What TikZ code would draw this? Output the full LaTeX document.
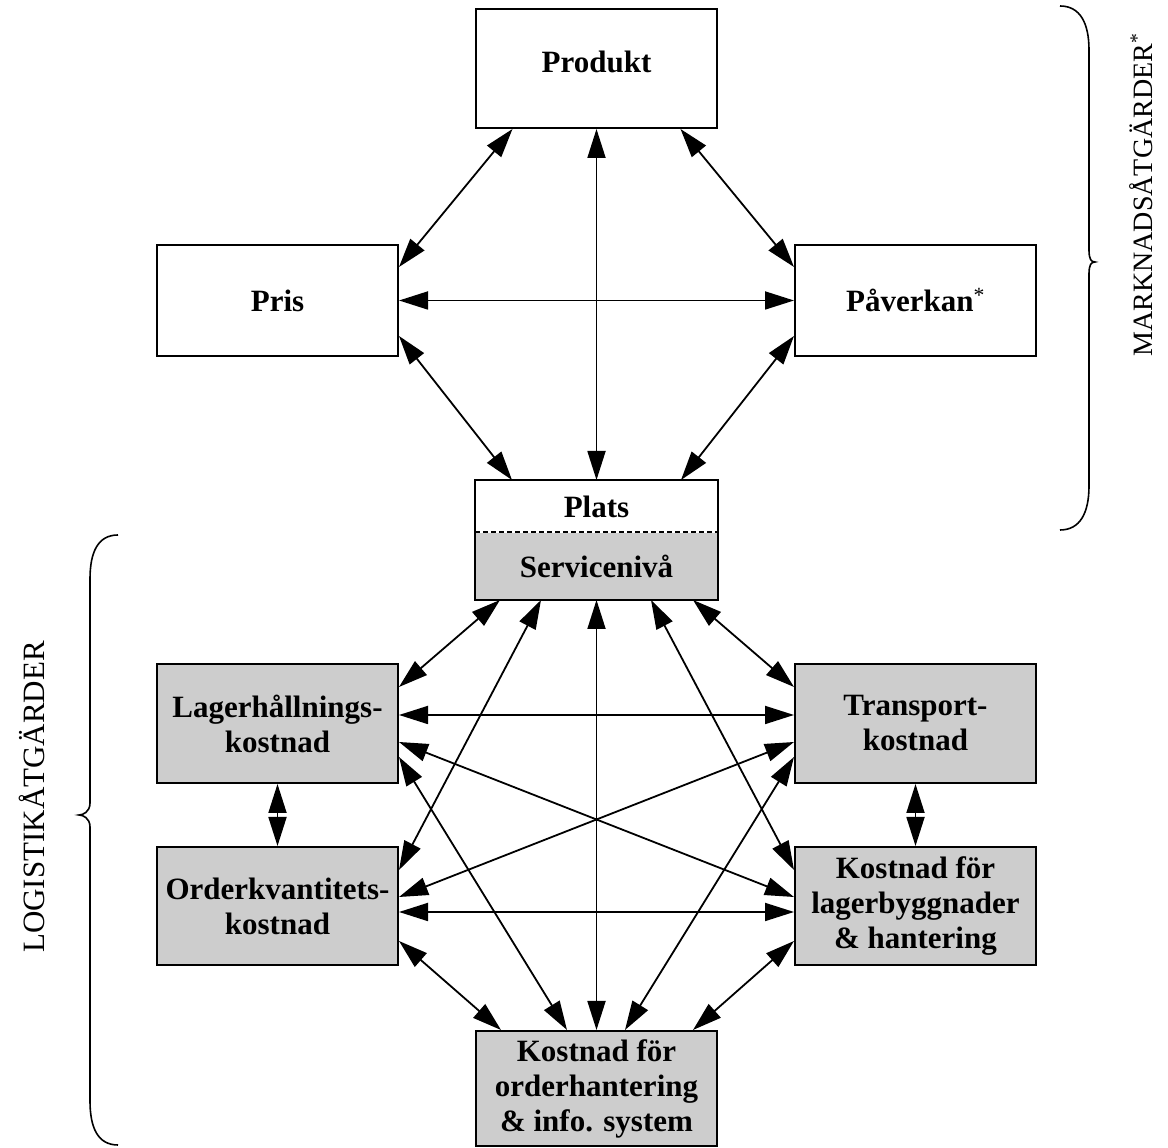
\documentclass[tikz,border=0pt]{standalone}
\usepackage{fontspec}
\setmainfont{Liberation Serif}
\usetikzlibrary{arrows.meta}
\definecolor{boxgray}{RGB}{205,205,205}
\begin{document}
\begin{tikzpicture}[x=1pt,y=1pt,
  box/.style={draw, line width=2pt, minimum width=241pt, inner sep=0pt, align=center,
    font=\bfseries\fontsize{31}{35}\selectfont},
  gbox/.style={box, fill=boxgray},
  arr/.style={line width=1.8pt, {Triangle[length=29pt,width=18pt]}-{Triangle[length=29pt,width=18pt]}},
  bracestyle/.style={line width=1.6pt},
  sidelabel/.style={rotate=90, font=\fontsize{31}{35}\selectfont}]
\useasboundingbox (0,0) rectangle (1168,1148);
% boxes
\node[box, minimum height=119pt] (prod) at (596.5,1079.5) {\raisebox{7pt}[\height][\depth]{Produkt}};
\node[box, minimum height=111pt] (pris) at (277.5,847.5) {Pris};
\node[box, minimum height=111pt] (paav) at (915.5,847.5) {Påverkan\textsuperscript{\mdseries *}};
\node[box, draw=none, fill=white, minimum height=52pt] (plats) at (596.5,641) {Plats};
\node[gbox, draw=none, minimum height=66pt] (serv) at (596.5,582) {Servicenivå};
\draw[line width=2pt] (plats.north west) rectangle (serv.south east);
\draw[line width=1.5pt, dash pattern=on 5pt off 3pt] (serv.north west) -- (serv.north east);
\node[gbox, minimum height=119pt] (lager) at (277.5,424.5) {Lagerhållnings-\\kostnad};
\node[gbox, minimum height=119pt] (trans) at (915.5,424.5) {Transport-\\kostnad};
\node[gbox, minimum height=118pt] (order) at (277.5,242) {Orderkvantitets-\\kostnad};
\node[gbox, minimum height=118pt] (lagb) at (915.5,242) {Kostnad för\\lagerbyggnader\\\& hantering};
\node[gbox, minimum height=115pt] (bott) at (596.5,59.5) {Kostnad för\\orderhantering\\\& info. system};
% upper arrows
\draw[arr] ([xshift=37.5pt]prod.south west) -- ([yshift=-23pt]pris.north east);
\draw[arr] ([xshift=-37.5pt]prod.south east) -- ([yshift=-23pt]paav.north west);
\draw[arr] (prod.south) -- (plats.north);
\draw[arr] (pris.east) -- (paav.west);
\draw[arr] ([yshift=21pt]pris.south east) -- ([xshift=37pt]plats.north west);
\draw[arr] ([yshift=21pt]paav.south west) -- ([xshift=-37pt]plats.north east);
% service arrows
\draw[arr] ([xshift=25pt]serv.south west) -- ([yshift=-24pt]lager.north east);
\draw[arr] ([xshift=-25pt]serv.south east) -- ([yshift=-24pt]trans.north west);
\draw[arr] ([xshift=66pt]serv.south west) -- ([yshift=-24pt]order.north east);
\draw[arr] ([xshift=-67pt]serv.south east) -- ([yshift=-24pt]lagb.north west);
\draw[arr] (serv.south) -- (bott.north);
% cross arrows
\draw[arr] ([yshift=-52pt]lager.north east) -- ([yshift=-52pt]trans.north west);
\draw[arr] ([yshift=-79pt]lager.north east) -- ([yshift=-51pt]lagb.north west);
\draw[arr] ([yshift=-79pt]trans.north west) -- ([yshift=-51pt]order.north east);
\draw[arr] ([yshift=-66pt]order.north east) -- ([yshift=-66pt]lagb.north west);
\draw[arr] ([yshift=-94pt]lager.north east) -- ([xshift=92pt]bott.north west);
\draw[arr] ([yshift=-94pt]trans.north west) -- ([xshift=-93pt]bott.north east);
\draw[arr] ([yshift=-95pt]order.north east) -- ([xshift=26pt]bott.north west);
\draw[arr] ([yshift=-95pt]lagb.north west) -- ([xshift=-25pt]bott.north east);
\draw[arr] (lager.south) -- (order.north);
\draw[arr] (trans.south) -- (lagb.north);
% braces
\draw[bracestyle] (1060,1142) .. controls (1080,1142) and (1089,1125) .. (1089,1098)
  -- (1089,898) .. controls (1089,889) and (1091,886) .. (1095,886)
  .. controls (1091,886) and (1089,883) .. (1089,874)
  -- (1089,662) .. controls (1089,635) and (1080,618) .. (1060,618);
\draw[bracestyle] (118,613) .. controls (98,613) and (90,596) .. (90,569)
  -- (90,345) .. controls (90,336) and (83,333) .. (79,333)
  .. controls (83,333) and (90,330) .. (90,321)
  -- (90,47) .. controls (90,20) and (98,3) .. (118,3);
\node[sidelabel, font=\fontsize{28}{32}\selectfont] (mk) at (1141,953) {MARKNADSÅTGÄRDER\textsuperscript{*}};
\node[sidelabel] (lg) at (32,351) {LOGISTIKÅTGÄRDER};
\end{tikzpicture}
\end{document}
